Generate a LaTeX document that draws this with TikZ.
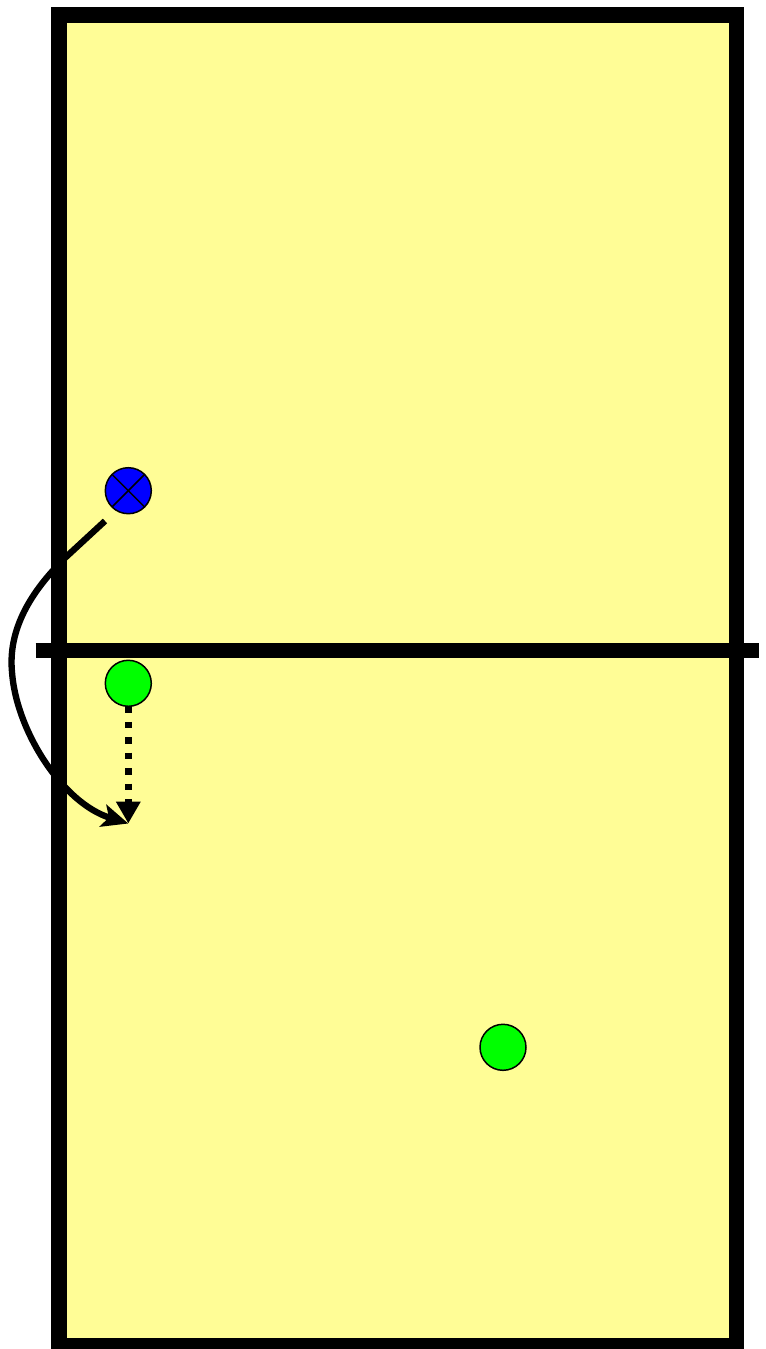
\documentclass[tikz,border=0pt]{standalone}
\usepackage{tikz}
\usetikzlibrary{arrows.meta,positioning}
\definecolor{courtYellow}{RGB}{255,253,150}
\definecolor{playerBlue}{RGB}{0,0,255}
\definecolor{playerGreen}{RGB}{0,255,0}

\begin{document}
\begin{tikzpicture}[x=0.02cm, y=-0.02cm,
    player/.style={circle, draw, line width=0.85pt, inner sep=0pt, outer sep=0pt, minimum size=0.92cm},
    courtline/.style={line width=8.9pt}]
  \useasboundingbox (0,0) rectangle (766,1349);
  % Court and net
  \draw[courtline, fill=courtYellow] (58.8,15.3) rectangle (736.4,1346.1);
  \draw[courtline] (35.7,650.5) -- (759.3,650.5);
  % Players
  \node[player, fill=playerBlue] (att) at (128.3,490.7) {};
  \draw[line width=0.85pt] (att.north east) -- (att.south west);
  \draw[line width=0.85pt] (att.north west) -- (att.south east);
  \node[player, fill=playerGreen] (def1) at (128.3,683.3) {};
  \node[player, fill=playerGreen] (def2) at (503,1047.3) {};
  \coordinate (land) at (128.3,823.5);
  % Moves
  \draw[line width=3.6pt, -{Stealth[length=15pt, width=13pt, inset=3.5pt]}]
    (105,521) -- (66,557) .. controls (30,592) and (8,630) .. (12,672)
    .. controls (16,730) and (62,803) .. (land);
  \draw[line width=4.2pt, dash pattern=on 3.8pt off 5pt,
    -{Triangle[length=12.5pt, width=13.3pt]}] (def1) -- (land);
\end{tikzpicture}
\end{document}
